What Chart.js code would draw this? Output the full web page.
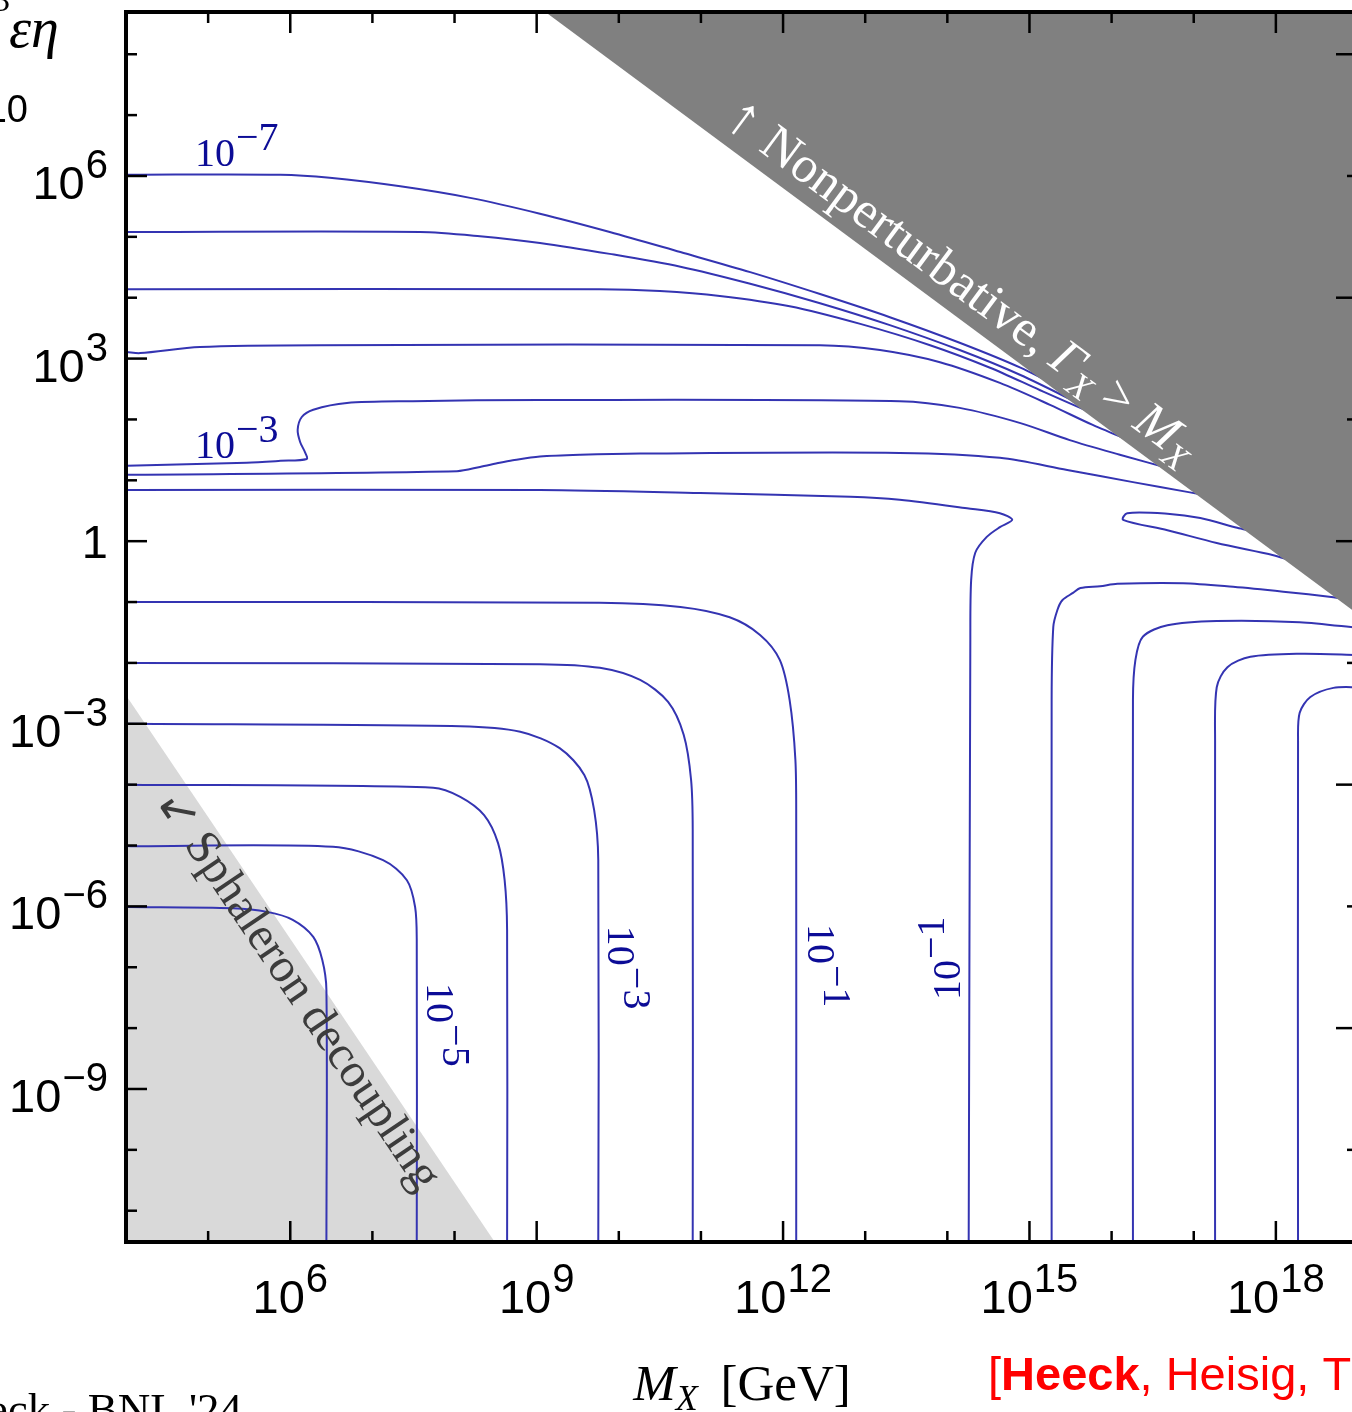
<!DOCTYPE html>
<html>
<head>
<meta charset="utf-8">
<script src="https://cdn.jsdelivr.net/npm/chart.js@4.4.1/dist/chart.umd.min.js"></script>
<style>
  html, body { margin: 0; padding: 0; overflow: hidden; background: #fff; }
  canvas { display: block; }
</style>
</head>
<body>
<canvas id="chart" width="1420" height="1412"></canvas>
<script>
// everything is in log10 units: x = log10(M_X / GeV), y = log10 of the vertical quantity
const xMin = 4, xMax = 19;
const yMin = -11.514, yMax = 8.694;
const xTickExp = [6, 9, 12, 15, 18];
const yTickExp = [-9, -6, -3, 0, 3, 6];

// contours that come in from the left and bend down towards the nonperturbative edge
const upper1 = [[4.01,6.02],[5.88,6.02],[6.48,5.97],[7.34,5.83],[8.19,5.64],[9.04,5.38],[9.89,5.08],[10.75,4.75],[11.60,4.42],[12.45,4.06],[13.30,3.68],[14.15,3.26],[14.89,2.85],[15.62,2.35],[16.10,2.02]];
const upper2 = [[4.01,5.08],[7.58,5.08],[8.31,5.01],[9.04,4.90],[9.89,4.72],[10.75,4.51],[11.60,4.23],[12.45,3.91],[13.30,3.55],[14.15,3.14],[14.89,2.73],[15.62,2.25],[16.10,1.93]];
const upper3 = [[4.01,4.14],[9.77,4.14],[10.50,4.11],[11.23,4.03],[12.08,3.86],[12.94,3.57],[13.79,3.22],[14.52,2.85],[15.13,2.48],[15.74,2.12],[16.22,1.86]];
const upper4 = [[4.01,3.11],[4.17,3.09],[4.90,3.19],[6.36,3.22],[12.45,3.22],[13.18,3.14],[13.91,2.94],[14.64,2.60],[15.25,2.24],[15.77,1.91],[16.35,1.58]];
const upper5 = [[4.01,1.24],[5.47,1.29],[5.88,1.32],[6.20,1.35],[6.18,1.46],[6.12,1.63],[6.09,1.83],[6.14,2.04],[6.28,2.16],[6.69,2.27],[7.49,2.30],[9.04,2.32],[13.42,2.30],[14.15,2.19],[14.89,1.94],[15.49,1.66],[16.10,1.42],[16.77,1.17]];
const upper6 = [[4.01,1.09],[8.03,1.15],[8.31,1.22],[8.55,1.29],[8.71,1.33],[9.04,1.39],[9.53,1.42],[10.26,1.44],[13.42,1.45],[14.64,1.37],[15.46,1.17],[16.26,0.97],[16.92,0.81],[17.44,0.68]];
// the 10^-1 contour with the fold, then straight down
const fold = [[4.01,0.84],[9.04,0.84],[10.99,0.79],[12.82,0.73],[13.42,0.68],[14.24,0.54],[14.64,0.46],[14.79,0.35],[14.64,0.23],[14.48,0.07],[14.34,-0.19],[14.29,-0.64],[14.28,-1.62],[14.26,-11.64]];
const wedge = [[17.69,0.17],[17.53,0.22],[17.08,0.38],[16.68,0.45],[16.19,0.46],[16.14,0.35],[16.68,0.18],[17.28,-0.03],[17.97,-0.23],[18.17,-0.31]];

// L shaped contours, lower left
const low1 = [[4.01,-1.00],[9.77,-1.01],[10.75,-1.08],[11.35,-1.25],[11.72,-1.54],[11.96,-1.95],[12.08,-2.61],[12.15,-3.59],[12.16,-4.58],[12.16,-11.64]];
const low2 = [[4.01,-2.00],[9.04,-2.02],[9.77,-2.08],[10.26,-2.28],[10.60,-2.64],[10.79,-3.18],[10.88,-3.92],[10.90,-4.74],[10.90,-11.64]];
const low3 = [[4.01,-3.00],[8.07,-3.04],[8.80,-3.13],[9.28,-3.40],[9.58,-3.84],[9.70,-4.42],[9.75,-5.24],[9.75,-11.64]];
const low4 = [[4.01,-4.00],[7.74,-4.05],[8.07,-4.20],[8.36,-4.50],[8.53,-4.96],[8.61,-5.57],[8.64,-6.39],[8.64,-11.64]];
const low5 = [[4.01,-5.01],[6.52,-5.02],[7.13,-5.24],[7.42,-5.57],[7.52,-6.01],[7.54,-6.55],[7.54,-11.64]];
const low6 = [[4.01,-6.01],[5.30,-6.03],[5.72,-6.09],[6.03,-6.22],[6.28,-6.50],[6.39,-6.88],[6.44,-7.37],[6.44,-11.64]];

// inverted L contours, lower right
const right1 = [[15.27,-11.64],[15.27,-2.61],[15.29,-1.41],[15.34,-1.13],[15.40,-0.97],[15.53,-0.85],[15.62,-0.77],[15.86,-0.74],[16.07,-0.70],[16.87,-0.69],[17.48,-0.75],[18.09,-0.83],[18.70,-0.92],[19.03,-0.98]];
const right2 = [[16.26,-11.64],[16.26,-2.61],[16.29,-1.95],[16.38,-1.57],[16.68,-1.38],[17.28,-1.31],[18.29,-1.33],[19.03,-1.43]];
const right3 = [[17.26,-11.64],[17.26,-3.27],[17.28,-2.40],[17.41,-2.07],[17.69,-1.90],[18.29,-1.85],[19.03,-1.87]];
const right4 = [[18.27,-11.64],[18.27,-3.27],[18.29,-2.82],[18.42,-2.56],[18.70,-2.41],[19.03,-2.40]];

// excluded regions
const nonpertRegion = [[9.04,8.76],[19.3,-1.5],[19.3,8.76]];
const sphaleronRegion = [[4,-2.53],[8.49,-11.514],[4,-11.514]];

// contour labels (exponent of 10)
const labelExp = [-7, -3, -5, -3, -1, -1];

// where the labels sit (data units) and how they are turned
const labelAt = [[4.84,6.17],[4.84,1.37],[7.66,-7.26],[9.87,-6.32],[12.30,-6.29],[14.15,-7.54]];
const labelTurn = [0, 0, 90, 90, 90, -90];
const nonpertTextAt = [11.26, 6.86];
const sphalTextAt = [4.35, -4.28];

const contours = [upper1, upper2, upper3, upper4, upper5, upper6, fold, wedge,
  low1, low2, low3, low4, low5, low6, right1, right2, right3, right4];

const SERIF = '"Liberation Serif", "Times New Roman", serif';
const SANS = '"Liberation Sans", Arial, sans-serif';
const LINE = '#3434b2';
const LABEL = '#0c0c96';

const pts = arr => arr.map(p => ({ x: p[0], y: p[1] }));

const datasets = [];
datasets.push({ data: pts(nonpertRegion), showLine: true, fill: 'shape', backgroundColor: '#808080',
  borderWidth: 0, pointRadius: 0, tension: 0, order: 0, clip: false });
contours.forEach(c => datasets.push({ data: pts(c), showLine: true, fill: false, borderColor: LINE,
  borderWidth: 2, pointRadius: 0, tension: 0.3, order: 1 }));
datasets.push({ data: pts(sphaleronRegion), showLine: true, fill: 'shape', backgroundColor: '#d9d9d9',
  borderWidth: 0, pointRadius: 0, tension: 0, order: 2 });

// draw a row of text pieces, starting at (x0,y0) turned by angle
function runs(ctx, parts, x0, y0, angle, align) {
  ctx.save();
  ctx.translate(x0, y0);
  ctx.rotate(angle || 0);
  ctx.textAlign = 'left';
  ctx.textBaseline = 'alphabetic';
  let w = 0;
  parts.forEach(p => { ctx.font = p.f; w += ctx.measureText(p.t).width + (p.gap || 0); });
  let cx = align === 'right' ? -w : align === 'center' ? -w / 2 : 0;
  parts.forEach(p => {
    ctx.font = p.f;
    ctx.fillStyle = p.c;
    ctx.fillText(p.t, cx, p.dy || 0);
    cx += ctx.measureText(p.t).width + (p.gap || 0);
  });
  ctx.restore();
}

function expText(e) {
  return e < 0 ? '\u2212' + (-e) : String(e);
}

function tickLabel(e) {
  if (e === 0) return [{ t: '1', f: '47px ' + SANS, c: '#000' }];
  return [{ t: '10', f: '47px ' + SANS, c: '#000', gap: 1 },
          { t: expText(e), f: '40px ' + SANS, c: '#000', dy: -21 }];
}

const annotate = {
  id: 'annotate',
  afterDatasetsDraw(chart) {
    const { ctx, chartArea: a, scales: { x, y } } = chart;
    const X = v => x.getPixelForValue(v);
    const Y = v => y.getPixelForValue(v);
    ctx.save();

    // region captions, parallel to the region edges
    const angN = Math.atan2(Y(nonpertRegion[1][1]) - Y(nonpertRegion[0][1]), X(nonpertRegion[1][0]) - X(nonpertRegion[0][0]));
    runs(ctx, [
      { t: '\u2191', f: '58px ' + SERIF, c: '#fff', gap: 2 },
      { t: ' Nonperturbative, ', f: '51px ' + SERIF, c: '#fff' },
      { t: '\u0393', f: 'italic 51px ' + SERIF, c: '#fff' },
      { t: 'X', f: 'italic 36px ' + SERIF, c: '#fff', dy: 10 },
      { t: ' > ', f: '51px ' + SERIF, c: '#fff' },
      { t: 'M', f: 'italic 51px ' + SERIF, c: '#fff' },
      { t: 'X', f: 'italic 36px ' + SERIF, c: '#fff', dy: 10 }
    ], X(nonpertTextAt[0]), Y(nonpertTextAt[1]), angN);

    const angS = Math.atan2(Y(sphaleronRegion[1][1]) - Y(sphaleronRegion[0][1]), X(sphaleronRegion[1][0]) - X(sphaleronRegion[0][0]));
    runs(ctx, [{ t: '\u2199 Sphaleron decoupling', f: '48px ' + SERIF, c: '#3c3c3c' }],
      X(sphalTextAt[0]), Y(sphalTextAt[1]), angS);

    // contour labels
    labelExp.forEach((e, i) => {
      runs(ctx, [
        { t: '10', f: '40px ' + SERIF, c: LABEL, gap: 1 },
        { t: expText(e), f: '40px ' + SERIF, c: LABEL, dy: -16 }
      ], X(labelAt[i][0]), Y(labelAt[i][1]), labelTurn[i] * Math.PI / 180);
    });

    // frame
    ctx.strokeStyle = '#000';
    ctx.lineWidth = 4;
    ctx.strokeRect(a.left, a.top, a.right - a.left, a.bottom - a.top);

    // ticks, pointing inwards
    ctx.lineWidth = 2.5;
    const seg = (x1, y1, x2, y2) => { ctx.beginPath(); ctx.moveTo(x1, y1); ctx.lineTo(x2, y2); ctx.stroke(); };
    for (let v = Math.ceil(xMin) + 1; v < xMax; v++) {
      const len = xTickExp.includes(v) ? 21 : 11;
      seg(X(v), a.bottom, X(v), a.bottom - len);
      seg(X(v), a.top, X(v), a.top + len);
    }
    for (let v = Math.ceil(yMin); v <= Math.floor(yMax); v++) {
      const len = yTickExp.includes(v) ? 21 : 11;
      seg(a.left, Y(v), a.left + len, Y(v));
      if (v % 2 === 0) {
        const rl = v % 4 === 0 ? 22 : 11;
        seg(a.right, Y(v), a.right - rl, Y(v));
      }
    }

    // tick labels
    xTickExp.forEach(e => runs(ctx, tickLabel(e), X(e), a.bottom + 71, 0, 'center'));
    yTickExp.forEach(e => runs(ctx, tickLabel(e), 108, Y(e) + (e === 0 ? 17 : 23), 0, 'right'));

    // axis title
    runs(ctx, [
      { t: 'M', f: 'italic 51px ' + SERIF, c: '#000' },
      { t: 'X', f: 'italic 36px ' + SERIF, c: '#000', dy: 10, gap: 10 },
      { t: ' [GeV]', f: '51px ' + SERIF, c: '#000' }
    ], (a.left + a.right) / 2, a.bottom + 158, 0, 'center');

    // pieces of the slide around the plot
    runs(ctx, [{ t: '\u03b5\u03b7', f: 'italic 56px ' + SERIF, c: '#000' }], 9, 47);
    runs(ctx, [{ t: '3', f: '34px ' + SERIF, c: '#000' }], -7, 11);
    runs(ctx, [{ t: '10', f: '38px ' + SANS, c: '#000' }], 28, 122, 0, 'right');
    runs(ctx, [{ t: "Heeck - BNL '24", f: '45px ' + SERIF, c: '#000' }], 242, 1424, 0, 'right');
    runs(ctx, [
      { t: '[', f: '47px ' + SANS, c: '#ff0000' },
      { t: 'Heeck', f: 'bold 47px ' + SANS, c: '#ff0000' },
      { t: ', Heisig, T', f: '47px ' + SANS, c: '#ff0000' }
    ], 988, 1390);

    ctx.restore();
  }
};

new Chart(document.getElementById('chart').getContext('2d'), {
  type: 'line',
  data: { datasets },
  options: {
    responsive: false,
    devicePixelRatio: 1,
    animation: false,
    layout: { padding: { left: 126, top: 12, right: 62, bottom: 170 } },
    plugins: { legend: { display: false }, tooltip: { enabled: false } },
    scales: {
      x: { type: 'linear', min: xMin, max: xMax, display: false },
      y: { type: 'linear', min: yMin, max: yMax, display: false }
    }
  },
  plugins: [annotate]
});
</script>
</body>
</html>
